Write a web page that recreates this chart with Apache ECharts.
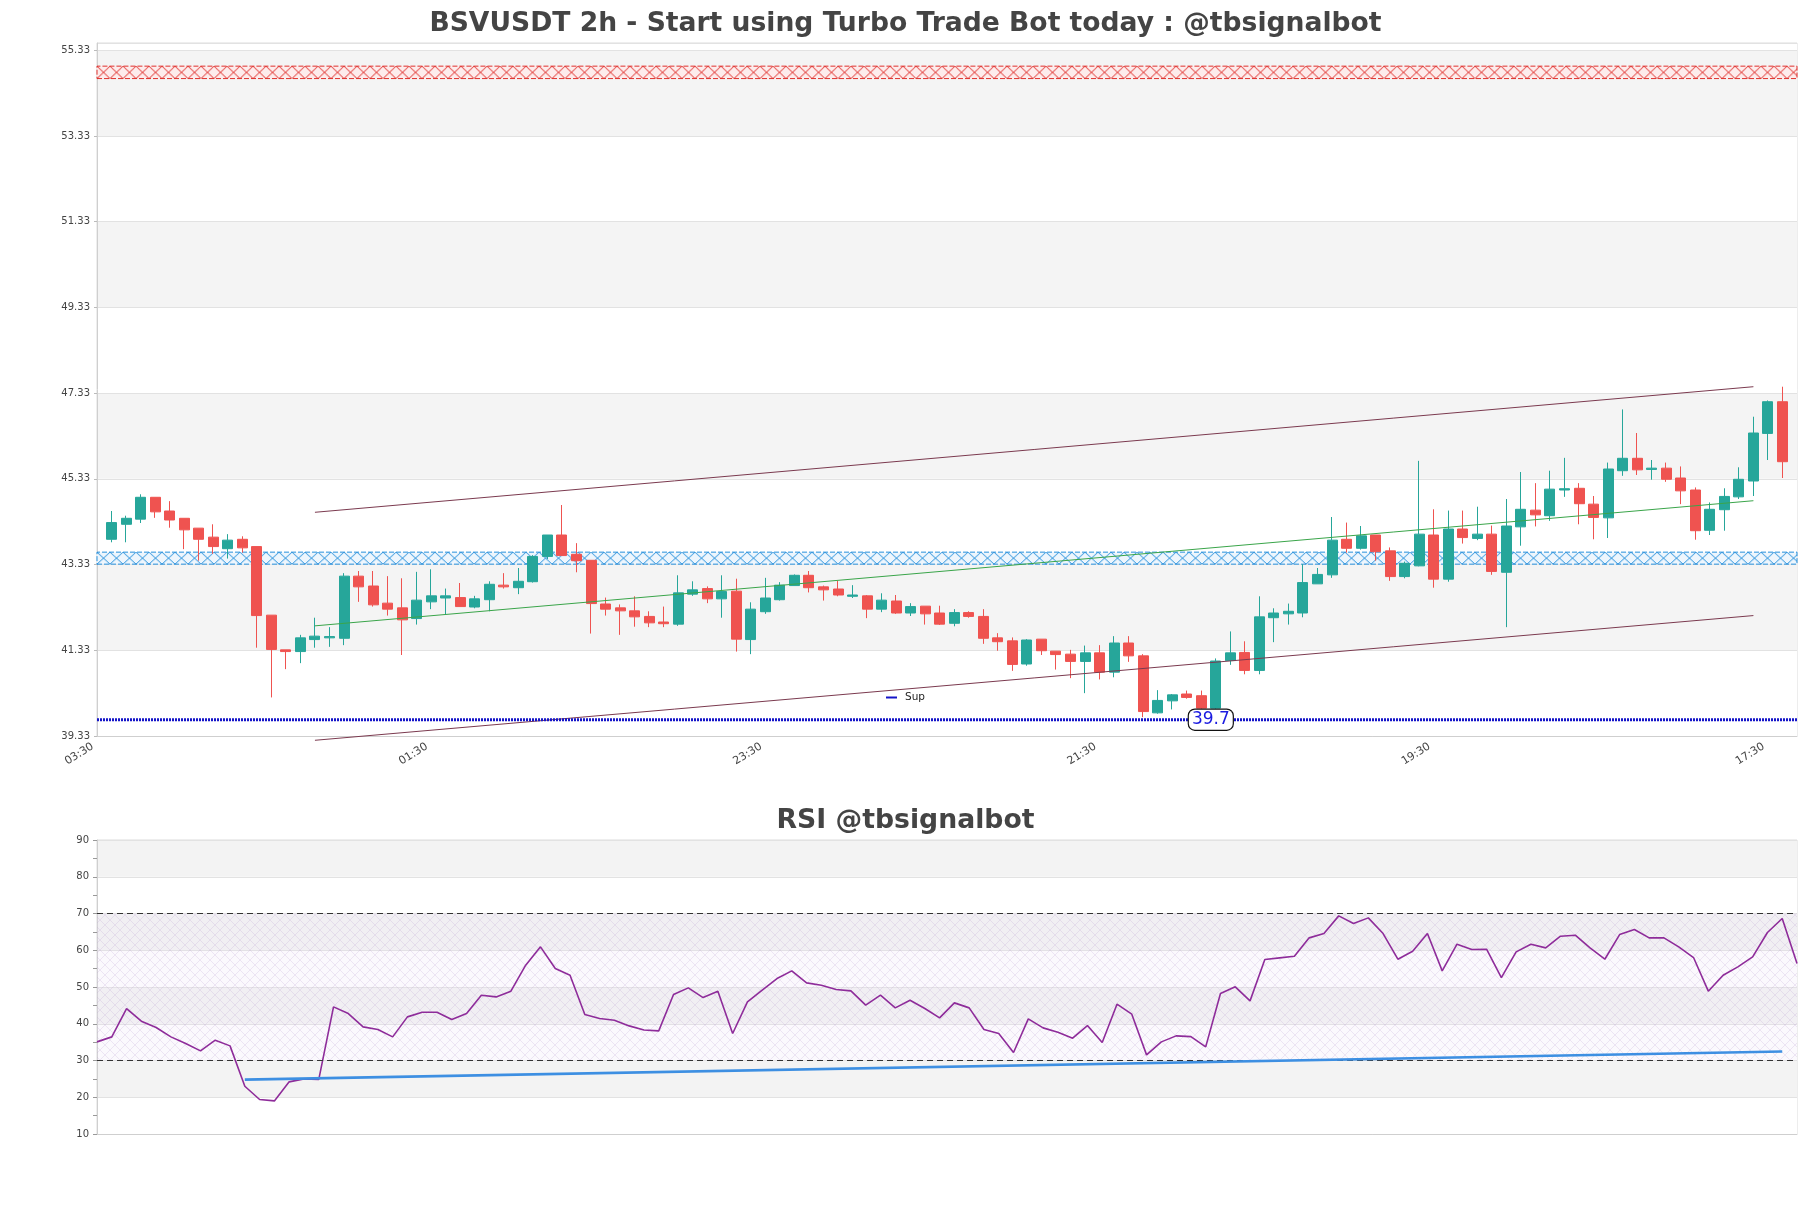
<!DOCTYPE html>
<html><head><meta charset="utf-8">
<script src="https://cdn.jsdelivr.net/npm/echarts@6/dist/echarts.min.js"></script>
<style>html,body{margin:0;padding:0;background:#fff}#c{width:1811px;height:1208px}</style>
</head><body><div id="c"></div>
<script>
// ---------- DATA ----------
const tickLabels = ['03:30','01:30','23:30','21:30','19:30','17:30'];
const opens = [43.92,44.27,44.39,44.90,44.58,44.41,44.18,43.97,43.70,43.92,
43.75,42.15,41.34,41.30,41.58,41.62,41.61,43.06,42.83,42.43,
42.32,42.07,42.46,42.55,42.56,42.34,42.51,42.85,42.79,42.93,
43.52,44.02,43.57,43.43,42.41,42.32,42.25,42.12,41.99,41.94,
42.64,42.77,42.53,42.71,41.58,42.23,42.51,42.84,43.08,42.81,
42.76,42.59,42.60,42.29,42.48,42.20,42.36,42.20,41.96,42.21,
42.12,41.62,41.55,41.01,41.59,41.31,41.24,41.07,41.27,40.82,
41.50,41.20,39.87,40.15,40.31,40.27,39.98,41.09,41.28,40.86,
42.09,42.18,42.20,42.88,43.09,43.92,43.71,44.02,43.65,43.05,
43.30,44.02,42.99,44.16,43.94,44.04,43.15,44.21,44.60,44.47,
45.07,45.11,44.74,44.42,45.52,45.81,45.55,45.58,45.35,45.07,
44.13,44.61,44.91,45.28,46.39,47.13];
const closes = [44.31,44.41,44.90,44.56,44.37,44.14,43.92,43.75,43.90,43.72,
42.14,41.35,41.30,41.62,41.66,41.65,43.06,42.81,42.39,42.29,
42.04,42.50,42.60,42.60,42.35,42.53,42.87,42.81,42.94,43.52,
44.02,43.54,43.42,42.42,42.29,42.25,42.11,41.97,41.95,42.67,
42.74,42.53,42.70,41.59,42.29,42.55,42.85,43.08,42.79,42.74,
42.62,42.62,42.29,42.50,42.20,42.35,42.18,41.94,42.21,42.12,
41.61,41.53,41.00,41.57,41.32,41.23,41.07,41.27,40.82,41.50,
41.20,39.90,40.16,40.29,40.23,39.98,41.08,41.27,40.86,42.11,
42.20,42.24,42.91,43.10,43.90,43.71,44.00,43.63,43.05,43.36,
44.04,42.99,44.16,43.96,44.04,43.17,44.23,44.62,44.49,45.09,
45.10,44.75,44.43,45.56,45.81,45.54,45.58,45.32,45.05,44.12,
44.62,44.92,45.32,46.40,47.13,45.73];
const lows = [43.85,43.85,44.30,44.42,44.19,43.69,43.42,43.58,43.47,43.61,
41.39,40.23,40.89,41.03,41.39,41.41,41.45,42.46,42.35,42.14,
41.22,41.93,42.29,42.16,42.35,42.31,42.24,42.77,42.64,42.91,
43.46,43.54,43.15,41.72,42.14,41.69,41.88,41.87,41.87,41.90,
42.60,42.43,42.09,41.30,41.24,42.18,42.49,42.84,42.68,42.49,
42.59,42.55,42.08,42.22,42.18,42.13,41.93,41.92,41.89,42.09,
41.48,41.32,40.85,40.97,41.22,40.88,40.68,40.33,40.65,40.70,
41.06,39.77,39.85,39.95,40.20,39.93,39.95,40.99,40.77,40.77,
41.52,41.93,42.10,42.88,43.02,43.61,43.68,43.42,42.95,43.01,
43.29,42.79,42.93,43.82,43.90,43.09,41.87,43.77,44.22,44.35,
44.91,44.27,43.92,43.95,45.40,45.42,45.31,45.26,44.74,43.91,
44.02,44.12,44.86,44.93,45.77,45.35];
const highs = [44.58,44.47,44.97,44.90,44.81,44.41,44.18,44.27,44.04,43.99,
43.75,42.15,41.34,41.69,42.09,41.87,43.13,43.18,43.18,43.06,
43.01,43.16,43.22,42.77,42.90,42.60,42.94,43.13,43.25,43.55,
44.02,44.72,43.83,43.43,42.56,42.40,42.59,42.24,42.35,43.08,
42.94,42.82,43.08,43.00,42.45,43.02,42.92,43.10,43.18,42.84,
42.95,42.85,42.62,42.66,42.62,42.43,42.36,42.37,42.29,42.24,
42.29,41.73,41.63,41.59,41.59,41.31,41.34,41.44,41.45,41.66,
41.66,41.24,40.40,40.31,40.39,40.39,41.14,41.77,41.54,42.59,
42.31,42.42,43.34,43.25,44.44,44.31,44.23,44.02,43.73,43.40,
45.75,44.62,44.59,44.59,44.68,44.24,44.86,45.49,45.23,45.52,
45.82,45.23,44.93,45.71,46.95,46.40,45.77,45.71,45.62,45.13,
44.78,45.11,45.60,46.78,47.16,47.48];
const rsi = [35.07,36.43,44.14,40.69,38.97,36.43,34.62,32.62,35.52,33.98,
23.0,19.38,19.01,24.19,25.0,24.82,44.59,42.78,39.15,38.42,
36.43,41.87,43.14,43.14,41.15,42.78,47.77,47.31,48.86,55.93,
60.92,55.02,53.21,42.51,41.42,40.97,39.42,38.3,38.06,47.95,
49.76,47.13,48.86,37.34,45.95,49.13,52.30,54.39,51.12,50.49,
49.31,48.95,45.05,47.77,44.32,46.41,44.14,41.60,45.68,44.32,
38.42,37.34,32.17,41.33,38.88,37.70,36.07,39.51,34.89,45.32,
42.60,31.53,35.07,36.70,36.5,33.71,48.22,50.04,46.22,57.47,
57.93,58.38,63.37,64.55,69.35,67.27,68.81,64.55,57.56,59.74,
64.55,54.39,61.64,60.19,60.28,52.57,59.56,61.64,60.65,63.82,
64.09,60.65,57.56,64.27,65.64,63.37,63.37,60.92,58.02,48.86,
53.21,55.48,58.20,64.82,68.63,56.38];
const channelIdx = [15, 114];
const upperChannel = [44.55, 47.48];
const midChannel = [41.90, 44.82];
const lowerChannel = [39.23, 42.14];
const rsiTrendIdx = [10, 114];
const rsiTrend = [24.8, 32.44];
const resistanceZone = [54.67, 54.96];
const supportZone = [43.34, 43.62];
const supLevel = 39.71;
const supLabel = '39.7';
const supLabelIdx = 77;
const rsiLevels = [30, 70];

// ---------- LAYOUT ----------
const G1 = {left: 97, right: 14, top: 43, height: 693};
const G2 = {left: 97, right: 14, top: 840, height: 294};
const Y1 = {min: 39.33, max: 55.5, interval: 2};
const FONT = 'DejaVu Sans';
const nSlots = opens.length + 2;
const cats = Array.from({length: nSlots}, (_, i) => String(i));
const rsiCats = rsi.map((_, i) => String(i));

function yPx(v){ return G1.top + (Y1.max - v) / (Y1.max - Y1.min) * G1.height; }
function xPattern(color, bg, w, h, lw){
  const c = document.createElement('canvas'); c.width = w; c.height = h;
  const x = c.getContext('2d');
  if (bg){ x.fillStyle = bg; x.fillRect(0,0,w,h); }
  x.strokeStyle = color; x.lineWidth = lw;
  x.beginPath(); x.moveTo(0,0); x.lineTo(w,h); x.moveTo(w,0); x.lineTo(0,h); x.stroke();
  return c;
}
function zoneStyle(zone, color, bg){
  const top = yPx(zone[1]), h = yPx(zone[0]) - top;
  const th = Math.max(4, Math.round(h));
  return {
    color: {image: xPattern(color, bg, 13, th, 1), repeat: 'repeat', x: G1.left, y: top, scaleY: h / th},
    borderColor: color, borderWidth: 1, borderType: [5, 2]
  };
}
const rsiHatch = xPattern('rgba(185,150,205,0.32)', 'rgba(235,220,242,0.18)', 10, 10, 0.7);

const chart = echarts.init(document.getElementById('c'), null, {renderer: 'canvas'});
const option = {
  animation: false,
  backgroundColor: '#ffffff',
  textStyle: {fontFamily: FONT},
  title: [
    {text: 'BSVUSDT 2h - Start using Turbo Trade Bot today : @tbsignalbot', left: 'center', top: 6,
     textStyle: {fontFamily: FONT, fontSize: 26.6, fontWeight: 'bold', color: '#444'}},
    {text: 'RSI @tbsignalbot', left: 'center', top: 803,
     textStyle: {fontFamily: FONT, fontSize: 26.7, fontWeight: 'bold', color: '#444'}}
  ],
  legend: {
    data: ['Sup'], left: 880, top: 688, padding: [4, 6], backgroundColor: '#fff',
    icon: 'rect', itemWidth: 11, itemHeight: 2, itemGap: 4,
    textStyle: {fontFamily: FONT, fontSize: 10.5, color: '#222', padding: [0, 0, 0, 3]}
  },
  grid: [
    Object.assign({show: true, borderColor: '#dcdcdc', borderWidth: 1, backgroundColor: 'transparent', outerBoundsMode: 'none'}, G1),
    Object.assign({show: true, borderColor: '#dcdcdc', borderWidth: 1, backgroundColor: 'transparent', outerBoundsMode: 'none'}, G2)
  ],
  xAxis: [
    {type: 'category', gridIndex: 0, data: cats, boundaryGap: false,
     axisLine: {show: true, lineStyle: {color: '#cfcfcf'}}, axisTick: {show: false},
     splitLine: {show: false},
     axisLabel: {interval: 22, rotate: 32, margin: 7, padding: [0, 5, 0, 0], fontFamily: FONT, fontSize: 11, color: '#444',
       formatter: (v, idx) => tickLabels[Math.round(idx / 23)] || ''}},
    {type: 'category', gridIndex: 1, data: rsiCats, boundaryGap: false,
     axisLine: {show: true, lineStyle: {color: '#cfcfcf'}}, axisTick: {show: false},
     axisLabel: {show: false}, splitLine: {show: false}}
  ],
  yAxis: [
    {type: 'value', gridIndex: 0, min: Y1.min, max: Y1.max, interval: Y1.interval, scale: true,
     axisLine: {show: true, lineStyle: {color: '#cfcfcf'}},
     axisTick: {show: true, length: 3, lineStyle: {color: '#bbb'}},
     axisLabel: {showMaxLabel: false, margin: 7, fontFamily: FONT, fontSize: 10, color: '#444',
       formatter: v => v.toFixed(2)},
     splitLine: {show: true, lineStyle: {color: '#e2e2e2', width: 1}},
     splitArea: {show: true, areaStyle: {color: ['#ffffff', '#f4f4f4']}}},
    {type: 'value', gridIndex: 1, min: 10, max: 90, interval: 10,
     axisLine: {show: true, lineStyle: {color: '#cfcfcf'}},
     axisTick: {show: true, length: 4, lineStyle: {color: '#999'}},
     minorTick: {show: true, splitNumber: 2, length: 4, lineStyle: {color: '#999'}},
     axisLabel: {margin: 8, fontFamily: FONT, fontSize: 10, color: '#444'},
     splitLine: {show: true, lineStyle: {color: '#e2e2e2', width: 1}},
     splitArea: {show: true, areaStyle: {color: ['#ffffff', '#f3f3f3']}}}
  ],
  series: [
    {name: 'zones', type: 'line', xAxisIndex: 0, yAxisIndex: 0, data: [], z: 1, silent: true,
     markArea: {silent: true, data: [
       [{yAxis: resistanceZone[0], itemStyle: zoneStyle(resistanceZone, '#e0302c', '#fdecec')}, {yAxis: resistanceZone[1]}],
       [{yAxis: supportZone[0], itemStyle: zoneStyle(supportZone, '#2690dc', '#eef6fd')}, {yAxis: supportZone[1]}]
     ]}},
    {name: 'candles', type: 'candlestick', xAxisIndex: 0, yAxisIndex: 0, z: 3,
     barWidth: 10.5, encode: {x: 0, y: [1, 2, 3, 4]},
     itemStyle: {color: '#26a69a', color0: '#ef5350', borderColor: '#26a69a', borderColor0: '#ef5350', borderWidth: 1},
     data: opens.map((o, j) => [j + 1, o, closes[j], lows[j], highs[j]])},
    {name: 'upper', type: 'line', xAxisIndex: 0, yAxisIndex: 0, z: 4, clip: false, symbol: 'none',
     lineStyle: {color: '#7b3a4f', width: 1},
     data: channelIdx.map((x, j) => [x, upperChannel[j]])},
    {name: 'mid', type: 'line', xAxisIndex: 0, yAxisIndex: 0, z: 4, clip: false, symbol: 'none',
     lineStyle: {color: '#3aa54a', width: 1},
     data: channelIdx.map((x, j) => [x, midChannel[j]])},
    {name: 'lower', type: 'line', xAxisIndex: 0, yAxisIndex: 0, z: 4, clip: false, symbol: 'none',
     lineStyle: {color: '#7b3a4f', width: 1},
     data: channelIdx.map((x, j) => [x, lowerChannel[j]])},
    {name: 'Sup', type: 'line', xAxisIndex: 0, yAxisIndex: 0, z: 4, symbol: 'none', color: '#1414c8',
     lineStyle: {color: '#1414c8', width: 3, type: [2, 1]},
     data: [[0, supLevel], [nSlots - 1, supLevel]],
     markPoint: {symbol: 'circle', symbolSize: 0, silent: true,
       data: [{coord: [supLabelIdx, supLevel], value: supLabel}],
       label: {show: true, position: 'inside', offset: [-5, 0], formatter: supLabel, fontFamily: FONT, fontSize: 17, color: '#1a1ae0',
         backgroundColor: '#fff', borderColor: '#111', borderWidth: 1.2, borderRadius: 6, padding: [2, 3, 1, 3]}}},
    {name: 'RSI', type: 'line', xAxisIndex: 1, yAxisIndex: 1, z: 4, symbol: 'none',
     lineStyle: {color: '#8e2c9a', width: 1.6}, data: rsi,
     markLine: {symbol: 'none', silent: true, label: {show: false},
       lineStyle: {color: '#333', type: [6, 4], width: 1.2},
       data: rsiLevels.map(v => ({yAxis: v}))},
     markArea: {silent: true, itemStyle: {color: {image: rsiHatch, repeat: 'repeat'}},
       data: [[{yAxis: rsiLevels[0]}, {yAxis: rsiLevels[1]}]]}},
    {name: 'rsiTrend', type: 'line', xAxisIndex: 1, yAxisIndex: 1, z: 5, symbol: 'none',
     lineStyle: {color: '#3d8fe2', width: 2.6},
     data: rsiTrendIdx.map((x, j) => [x, rsiTrend[j]])}
  ]
};
chart.setOption(option);
</script>
</body></html>
